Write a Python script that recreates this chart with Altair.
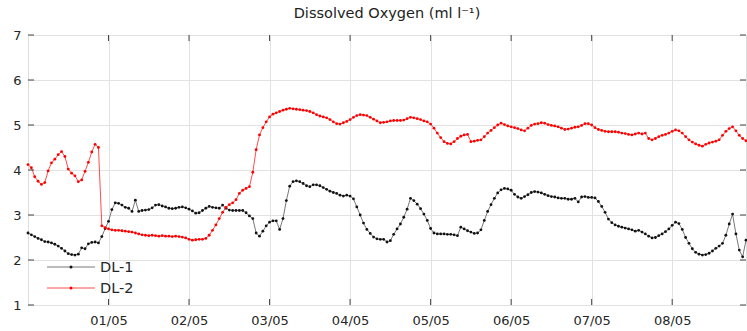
import altair as alt
import pandas as pd

# Hourly dissolved-oxygen readings (ml/l), starting 30/04 00:00
dl1 = [
    2.60, 2.56, 2.52, 2.48, 2.45, 2.41, 2.40, 2.38, 2.35, 2.31, 2.26, 2.20,
    2.14, 2.12, 2.11, 2.13, 2.27, 2.25, 2.36, 2.39, 2.40, 2.38, 2.52, 2.70,
    2.86, 3.12, 3.27, 3.26, 3.22, 3.17, 3.15, 3.08, 3.33, 3.08, 3.10, 3.11,
    3.12, 3.16, 3.22, 3.23, 3.20, 3.18, 3.15, 3.14, 3.15, 3.17, 3.18, 3.16,
    3.13, 3.09, 3.04, 3.05, 3.10, 3.15, 3.19, 3.17, 3.16, 3.15, 3.22, 3.15,
    3.11, 3.10, 3.10, 3.10, 3.10, 3.05, 2.98, 2.92, 2.60, 2.53, 2.64, 2.76,
    2.84, 2.87, 2.87, 2.68, 2.92, 3.32, 3.64, 3.74, 3.76, 3.74, 3.70, 3.65,
    3.63, 3.67, 3.67, 3.65, 3.61, 3.57, 3.53, 3.50, 3.48, 3.44, 3.42, 3.44,
    3.42, 3.36, 3.18, 3.00, 2.82, 2.68, 2.59, 2.51, 2.47, 2.46, 2.46, 2.40,
    2.43, 2.57, 2.69, 2.80, 2.95, 3.13, 3.37, 3.32, 3.24, 3.14, 3.02, 2.88,
    2.70, 2.60, 2.58, 2.58, 2.58, 2.57, 2.57, 2.56, 2.54, 2.73, 2.69, 2.65,
    2.62, 2.59, 2.60, 2.67, 2.88, 3.08, 3.23, 3.37, 3.49, 3.56, 3.59, 3.58,
    3.55, 3.46, 3.40, 3.37, 3.41, 3.45, 3.50, 3.52, 3.51, 3.49, 3.46, 3.43,
    3.41, 3.40, 3.38, 3.37, 3.37, 3.35, 3.35, 3.37, 3.29, 3.40, 3.41, 3.39,
    3.39, 3.38, 3.30, 3.19, 3.06, 2.91, 2.83, 2.78, 2.75, 2.73, 2.71, 2.69,
    2.67, 2.64, 2.66, 2.62, 2.58, 2.53, 2.49, 2.50, 2.54, 2.58, 2.63, 2.69,
    2.77, 2.84, 2.81, 2.68, 2.50, 2.37, 2.25, 2.17, 2.13, 2.11, 2.12, 2.15,
    2.20, 2.26, 2.31, 2.37, 2.55, 2.80, 3.02, 2.58, 2.22, 2.07, 2.44,
]
dl2 = [
    4.12, 4.05, 3.85, 3.75, 3.68, 3.72, 3.98, 4.16, 4.24, 4.34, 4.41, 4.30,
    4.02, 3.93, 3.87, 3.74, 3.78, 3.97, 4.17, 4.40, 4.57, 4.50, 2.76, 2.72,
    2.69, 2.67, 2.66, 2.66, 2.65, 2.64, 2.63, 2.62, 2.60, 2.58, 2.56, 2.55,
    2.54, 2.55, 2.54, 2.53, 2.54, 2.53, 2.53, 2.52, 2.53, 2.52, 2.51, 2.49,
    2.46, 2.44, 2.45, 2.46, 2.46, 2.48, 2.55, 2.66, 2.78, 2.92, 3.06, 3.17,
    3.23, 3.27, 3.34, 3.48, 3.55, 3.59, 3.63, 3.95, 4.45, 4.78, 4.94, 5.07,
    5.18, 5.24, 5.27, 5.30, 5.33, 5.35, 5.37, 5.36, 5.35, 5.34, 5.33, 5.32,
    5.30, 5.27, 5.23, 5.20, 5.18, 5.16, 5.12, 5.07, 5.03, 5.02, 5.05, 5.08,
    5.12, 5.17, 5.21, 5.23, 5.22, 5.21, 5.17, 5.13, 5.09, 5.05, 5.06, 5.07,
    5.09, 5.10, 5.10, 5.10, 5.11, 5.14, 5.17, 5.16, 5.14, 5.12, 5.09, 5.07,
    5.02, 4.93, 4.82, 4.72, 4.63, 4.59, 4.58, 4.63, 4.70, 4.75, 4.78, 4.79,
    4.63, 4.64, 4.66, 4.67, 4.74, 4.82, 4.88, 4.94, 5.00, 5.04, 5.01, 4.98,
    4.96, 4.94, 4.92, 4.89, 4.87, 4.93, 4.99, 5.02, 5.03, 5.05, 5.04, 5.01,
    4.99, 4.98, 4.96, 4.93, 4.90, 4.91, 4.93, 4.95, 4.96, 4.99, 5.03, 5.03,
    5.00, 4.94, 4.90, 4.88, 4.86, 4.85, 4.85, 4.85, 4.84, 4.82, 4.81, 4.79,
    4.78, 4.80, 4.82, 4.80, 4.82, 4.70, 4.67, 4.70, 4.74, 4.77, 4.79, 4.82,
    4.86, 4.89, 4.87, 4.82, 4.74, 4.67, 4.62, 4.58, 4.55, 4.53, 4.57, 4.60,
    4.62, 4.64, 4.67, 4.77, 4.86, 4.92, 4.96, 4.87, 4.77, 4.70, 4.65,
]
series_names = ["DL-1", "DL-2"]
line_colors = ["#555555", "#ff2020"]
dot_colors = ["#111111", "#ff0000"]
tick_days = [1, 2, 3, 4, 5, 6, 7, 8]
y_ticks = [1, 2, 3, 4, 5, 6, 7]

W, H = 718, 270
FONT = "DejaVu Sans"

times = pd.date_range("2015-04-30 00:00", periods=len(dl1), freq="h")
stamps = times.strftime("%Y-%m-%dT%H:%M:%S").tolist()
df = pd.concat([
    pd.DataFrame({"time": stamps, "value": vals, "series": name})
    for name, vals in zip(series_names, [dl1, dl2])
])

x_dom = [alt.DateTime(year=2015, month=4, date=30, hours=0),
         alt.DateTime(year=2015, month=5, date=8, hours=22)]
tick_dt = [alt.DateTime(year=2015, month=5, date=d) for d in tick_days]
x_scale = alt.Scale(domain=x_dom, nice=False)
y_scale = alt.Scale(domain=[1, 7], nice=False)

x_axis = alt.Axis(values=tick_dt, format="%d/%m", title=None, grid=True,
                  ticks=False, tickSize=0, domain=False, labelPadding=9,
                  labelFont=FONT, labelFontSize=13, labelColor="#262626",
                  gridColor="#e2e2e2", labelFlush=False)
y_axis = alt.Axis(values=y_ticks, title=None, grid=True, ticks=False,
                  tickSize=0, domain=False, labelPadding=7, labelFont=FONT,
                  labelFontSize=13, labelColor="#262626", gridColor="#e2e2e2")
xenc = alt.X("time:T", scale=x_scale, axis=x_axis)
yenc = alt.Y("value:Q", scale=y_scale, axis=y_axis)

layers = []
for name, lc, pc in zip(series_names, line_colors, dot_colors):
    base = alt.Chart(df).transform_filter(alt.datum.series == name).encode(
        x=xenc, y=yenc)
    layers.append(base.mark_line(color=lc, strokeWidth=0.8))
    layers.append(base.mark_circle(color=pc, size=8, opacity=1))

# inward tick marks on all four sides of the box
xt = pd.DataFrame({"time": [f"2015-05-{d:02d}T00:00:00" for d in tick_days]})
yt = pd.DataFrame({"value": y_ticks})
tick_col = "#444444"
layers += [
    alt.Chart(xt).mark_rule(color=tick_col).encode(x=xenc, y=alt.value(0), y2=alt.value(6)),
    alt.Chart(xt).mark_rule(color=tick_col).encode(x=xenc, y=alt.value(H), y2=alt.value(H - 6)),
    alt.Chart(yt).mark_rule(color=tick_col).encode(y=yenc, x=alt.value(0), x2=alt.value(6)),
    alt.Chart(yt).mark_rule(color=tick_col).encode(y=yenc, x=alt.value(W), x2=alt.value(W - 6)),
]

# legend in the lower-left corner of the plot
for name, lc, pc, ly in zip(series_names, line_colors, dot_colors, [232, 253]):
    ld = pd.DataFrame({"series": [name]})
    layers += [
        alt.Chart(ld).mark_rule(color=lc, strokeWidth=0.8).encode(
            x=alt.value(19), x2=alt.value(67), y=alt.value(ly)),
        alt.Chart(ld).mark_circle(color=pc, size=9, opacity=1).encode(
            x=alt.value(43), y=alt.value(ly)),
        alt.Chart(ld).mark_text(align="left", baseline="middle", font=FONT,
                                fontSize=14.5, color="#262626").encode(
            x=alt.value(72), y=alt.value(ly + 1), text="series:N"),
    ]

chart = alt.layer(*layers).properties(
    width=W, height=H,
    autosize="none",
    padding={"left": 28, "top": 35, "right": 1, "bottom": 26},
    title=alt.TitleParams("Dissolved Oxygen (ml l⁻¹)", font=FONT, fontSize=14.5,
                          fontWeight="normal", color="#222222", offset=8,
                          anchor="middle"),
).configure_view(stroke="#555555", strokeWidth=1).configure(background="white")

chart.save("out.html", embed_options={"renderer": "svg", "actions": False})
